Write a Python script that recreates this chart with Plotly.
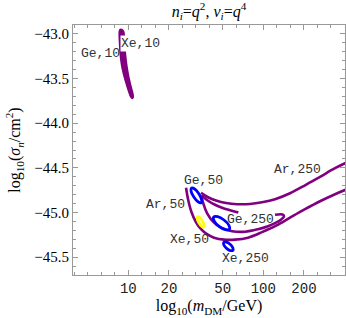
import numpy as np
import plotly.graph_objects as go

# ---------------- data (log10 m_DM [GeV], log10 sigma_n [cm^2]) ----------------
# filled region, Ge/Xe at 10 GeV
low_logm = [0.9348, 0.9407, 0.9533, 0.9644, 0.9681, 0.9719, 0.9778, 0.9867, 0.9993,
            1.0141, 1.0274, 1.0348, 1.0311, 1.0200, 1.0015, 0.9830, 0.9644, 0.9496,
            0.9407, 0.9363, 0.9348]
low_logs = [-42.972, -42.953, -42.955, -42.978, -43.028, -43.129, -43.240, -43.352, -43.464,
            -43.565, -43.643, -43.699, -43.719, -43.705, -43.632, -43.542, -43.442, -43.330,
            -43.207, -43.095, -42.972]

# Ar contours (open curves)
ar_a_logm = [1.4274, 1.4422, 1.4681, 1.5015, 1.5385, 1.5830, 1.6348, 1.7089, 1.7904,
             1.8867, 1.9904, 2.0941, 2.1978, 2.3089, 2.4200, 2.5311, 2.6126]
ar_a_logs = [-44.723, -44.851, -44.997, -45.109, -45.187, -45.243, -45.282, -45.304, -45.304,
             -45.282, -45.220, -45.148, -45.058, -44.963, -44.874, -44.795, -44.743]

ar_b_logm = [1.5385, 1.5904, 1.6496, 1.7237, 1.8052, 1.9015, 1.9904, 2.0867, 2.1978,
             2.3089, 2.4200, 2.5311, 2.6126]
ar_b_logs = [-44.779, -44.829, -44.866, -44.894, -44.907, -44.904, -44.885, -44.851, -44.784,
             -44.695, -44.600, -44.504, -44.443]

ar_c_logm = [1.5422, 1.5570, 1.5830, 1.6274, 1.6867, 1.7681, 1.8644, 1.9607, 2.0348,
             2.0941, 2.1348, 2.1533, 2.1422, 2.0867]
ar_c_logs = [-44.818, -44.907, -45.008, -45.103, -45.170, -45.209, -45.215, -45.187, -45.153,
             -45.114, -45.075, -45.041, -45.022, -45.025]

ar_d_logm = [1.5422, 1.5904, 1.6422, 1.6941, 1.7533, 1.8148]
ar_d_logs = [-44.806, -44.868, -44.913, -44.946, -44.974, -45.000]

# closed contours
ge50_logm = [1.5396, 1.5159, 1.4851, 1.4653, 1.4679, 1.4915, 1.5223, 1.5421, 1.5396]
ge50_logs = [-44.891, -44.880, -44.827, -44.764, -44.726, -44.737, -44.790, -44.854, -44.891]

xe50_logm = [1.5574, 1.5419, 1.5227, 1.5110, 1.5137, 1.5292, 1.5484, 1.5601, 1.5574]
xe50_logs = [-45.164, -45.154, -45.116, -45.072, -45.047, -45.056, -45.094, -45.139, -45.164]

ge250_logm = [1.7488, 1.7188, 1.6721, 1.6361, 1.6319, 1.6619, 1.7086, 1.7446, 1.7488]
ge250_logs = [-45.188, -45.193, -45.155, -45.096, -45.051, -45.046, -45.084, -45.143, -45.188]

xe250_logm = [1.7746, 1.7555, 1.7278, 1.7076, 1.7069, 1.7260, 1.7537, 1.7739, 1.7746]
xe250_logs = [-45.423, -45.426, -45.402, -45.365, -45.336, -45.332, -45.356, -45.394, -45.423]

# labels
label_text = ["Ge,10", "Xe,10", "Ge,50", "Ar,50", "Ar,250", "Ge,250", "Xe,50", "Xe,250"]
label_logm = [0.7904, 1.0889, 1.5556, 1.2719, 2.2533, 1.9052, 1.4519, 1.8704]
label_logs = [-43.224, -43.112, -44.644, -44.913, -44.518, -45.073, -45.307, -45.520]
label_bg = [False, True, False, False, False, False, False, False]

# ticks
x_tick_vals = [10, 20, 50, 100, 200]
x_tick_text = ["10", "20", "50", "100", "200"]
y_tick_vals = [-43.0, -43.5, -44.0, -44.5, -45.0, -45.5]
y_tick_text = ["\u221243.0", "\u221243.5", "\u221244.0", "\u221244.5", "\u221245.0", "\u221245.5"]
x_minor_log = [0.6, 0.7, 0.8, 0.9, 1.1, 1.2, 1.3, 1.4, 1.5, 1.6, 1.7, 1.8, 1.9,
               2.1, 2.2, 2.3, 2.4, 2.5, 2.6]

PURPLE = "#800080"
BLUE = "#0000FF"
YELLOW = "#FFFF00"
FRAME = "#999999"

def m(v):
    return 10 ** np.array(v)

fig = go.Figure()

fig.add_trace(go.Scatter(x=m(low_logm), y=low_logs, mode="lines", fill="toself",
                         fillcolor=PURPLE, line=dict(color=PURPLE, width=2, shape="spline"),
                         hoverinfo="skip", showlegend=False))

for lx, ly in [(ar_a_logm, ar_a_logs), (ar_b_logm, ar_b_logs),
               (ar_c_logm, ar_c_logs), (ar_d_logm, ar_d_logs)]:
    fig.add_trace(go.Scatter(x=m(lx), y=ly, mode="lines",
                             line=dict(color=PURPLE, width=2.6, shape="spline"),
                             hoverinfo="skip", showlegend=False))

for lx, ly, col in [(ge50_logm, ge50_logs, BLUE), (xe50_logm, xe50_logs, YELLOW),
                    (ge250_logm, ge250_logs, BLUE), (xe250_logm, xe250_logs, BLUE)]:
    fig.add_trace(go.Scatter(x=m(lx), y=ly, mode="lines",
                             line=dict(color=col, width=2.8, shape="spline"),
                             hoverinfo="skip", showlegend=False))

for t, lx, ly, bg in zip(label_text, label_logm, label_logs, label_bg):
    fig.add_annotation(x=lx, y=ly, xref="x", yref="y", text=t, showarrow=False,
                       font=dict(family="Liberation Mono", size=13, color="#333333"),
                       bgcolor="white" if bg else "rgba(0,0,0,0)", borderpad=0,
                       xanchor="center", yanchor="middle")

fig.update_layout(
    width=346, height=318, autosize=False,
    margin=dict(l=73, r=1, t=25, b=43, autoexpand=False),
    paper_bgcolor="white", plot_bgcolor="white",
    showlegend=False,
    title=dict(text="<i>n</i><sub><i>i</i></sub>=<i>q</i><sup>2</sup>, <i>\u03bd</i><sub><i>i</i></sub>=<i>q</i><sup>4</sup>",
               x=0.5, xref="paper", y=1 - 11 / 318, yref="container", yanchor="middle",
               font=dict(family="Liberation Serif", size=16, color="black")),
)

fig.update_xaxes(
    type="log", range=[0.59, 2.605], automargin=False,
    tickmode="array", tickvals=x_tick_vals, ticktext=x_tick_text,
    ticks="inside", ticklen=5, tickcolor=FRAME, tickwidth=1,
    minor=dict(ticks="inside", ticklen=3, tickcolor=FRAME, tickmode="array",
               tickvals=list(m(x_minor_log))),
    showline=True, linecolor=FRAME, linewidth=1, mirror="allticks",
    showgrid=False, zeroline=False,
    tickfont=dict(family="Liberation Mono", size=14, color="#222222"),
    title=dict(text="log<sub>10</sub>(<i>m</i><sub>DM</sub>/GeV)",
               font=dict(family="Liberation Serif", size=16, color="black"), standoff=4),
)
fig.update_yaxes(
    range=[-45.7, -42.9], automargin=False,
    tickmode="array", tickvals=y_tick_vals, ticktext=y_tick_text,
    ticks="inside", ticklen=5, tickcolor=FRAME, tickwidth=1,
    minor=dict(ticks="inside", ticklen=3, tickcolor=FRAME, dtick=0.1, tick0=-43.0),
    showline=True, linecolor=FRAME, linewidth=1, mirror="allticks",
    showgrid=False, zeroline=False,
    tickfont=dict(family="Liberation Serif", size=15, color="black"),
    title=dict(text="log<sub>10</sub>(<i>\u03c3</i><sub><i>n</i></sub>/cm<sup>2</sup>)",
               font=dict(family="Liberation Serif", size=16, color="black"), standoff=9),
)

fig.write_html("out.html", config={"displayModeBar": False},
               post_script="document.body.style.margin='0';document.body.style.overflow='hidden';")
